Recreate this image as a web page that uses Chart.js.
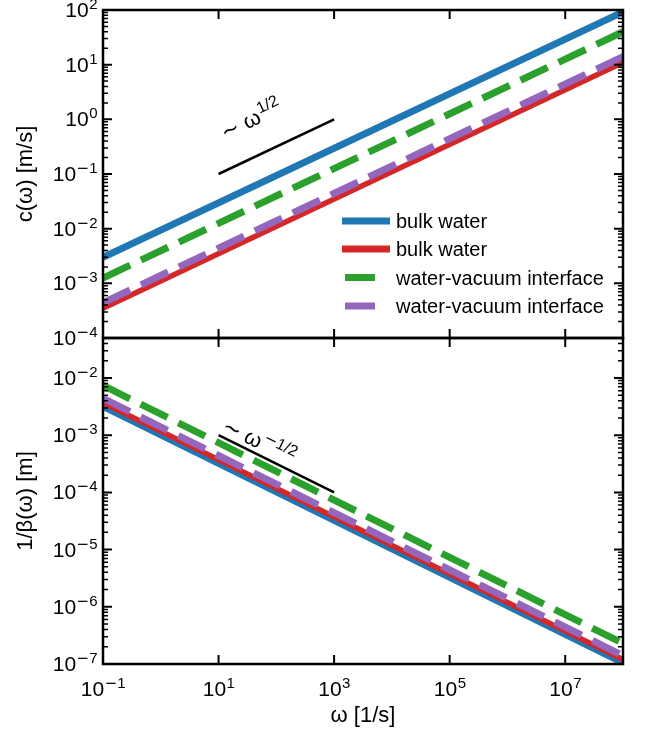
<!DOCTYPE html>
<html>
<head>
<meta charset="utf-8">
<script src="https://cdn.jsdelivr.net/npm/chart.js@4.4.1/dist/chart.umd.min.js"></script>
<style>
html, body { margin: 0; padding: 0; background: #fff; }
#wrap { position: relative; width: 651px; height: 731px; background: #fff; }
#top { position: absolute; left: 0; top: 0; }
#bot { position: absolute; left: 0; top: 330px; }
</style>
</head>
<body>
<div id="wrap">
  <canvas id="top" width="651" height="345"></canvas>
  <canvas id="bot" width="651" height="401"></canvas>
</div>
<script>
// end points of each straight line (log-log)
const omega = [0.1, 1e8];
const guideOmega = [10, 1000];

// top panel: c(omega) [m/s]
const cBulkA = [3.0e-3, 92];
const cBulkB = [3.5e-4, 11];
const cIfaceA = [1.25e-3, 40];
const cIfaceB = [4.4e-4, 14];
const cGuide = [0.1, 1];

// bottom panel: 1/beta(omega) [m]
const bBulkA = [3.2e-3, 1.05e-7];
const bBulkB = [3.7e-3, 1.2e-7];
const bIfaceA = [7.4e-3, 2.3e-7];
const bIfaceB = [4.4e-3, 1.4e-7];
const bGuide = [1e-3, 1e-4];

const names = ["bulk water", "bulk water", "water-vacuum interface", "water-vacuum interface"];
const colors = ["#1f77b4", "#d62728", "#2ca02c", "#9467bd"];

const xTickExp = [-1, 1, 3, 5, 7];
const cTickExp = [-4, -3, -2, -1, 0, 1, 2];
const bTickExp = [-7, -6, -5, -4, -3, -2];

const FONT = '"Liberation Sans", Arial, Helvetica, sans-serif';
const MINUS_FONT = '"DejaVu Sans", sans-serif';

function pts(xs, ys) {
  return xs.map((x, i) => ({ x: x, y: ys[i] }));
}

function series(vals, i) {
  return {
    label: names[i],
    data: pts(omega, vals),
    borderColor: colors[i],
    backgroundColor: colors[i],
    borderWidth: i === 1 ? 5.5 : 7,
    borderDash: i >= 2 ? [30, 12] : [],
    borderCapStyle: 'butt',
    pointRadius: 0,
    clip: 0,
    order: 4 - i // blue at the bottom, purple on top
  };
}

function guide(vals) {
  return {
    label: '',
    data: pts(guideOmega, vals),
    borderColor: '#000',
    borderWidth: 2.5,
    pointRadius: 0,
    clip: 0,
    order: 0
  };
}

// superscript text; a leading minus is drawn with the wider DejaVu glyph
function drawSup(ctx, s, x, y, size) {
  let w = 0;
  if (s[0] === '\u2212') {
    ctx.font = size + 'px ' + MINUS_FONT;
    ctx.fillText('\u2212', x, y);
    w = ctx.measureText('\u2212').width;
    s = s.slice(1);
  }
  ctx.font = size + 'px ' + FONT;
  ctx.fillText(s, x + w, y);
  return w + ctx.measureText(s).width;
}

function supWidth(ctx, s, size) {
  let w = 0;
  if (s[0] === '\u2212') {
    ctx.font = size + 'px ' + MINUS_FONT;
    w = ctx.measureText('\u2212').width;
    s = s.slice(1);
  }
  ctx.font = size + 'px ' + FONT;
  return w + ctx.measureText(s).width;
}

// "10" with a superscript exponent
function drawPow(ctx, exp, x, y, align) {
  const sup = exp < 0 ? '\u2212' + (-exp) : String(exp);
  ctx.font = '21px ' + FONT;
  const wb = ctx.measureText('10').width;
  const ws = supWidth(ctx, sup, 15);
  const x0 = align === 'right' ? x - wb - ws : x - (wb + ws) / 2;
  ctx.textAlign = 'left';
  ctx.textBaseline = 'alphabetic';
  ctx.font = '21px ' + FONT;
  ctx.fillText('10', x0, y);
  drawSup(ctx, sup, x0 + wb + 0.5, y - 8, 15);
}

const axesPlugin = {
  id: 'axesBox',
  afterDatasetsDraw(chart, args, o) {
    const ctx = chart.ctx, a = chart.chartArea;
    const xs = chart.scales.x, ys = chart.scales.y;
    ctx.save();
    ctx.fillStyle = '#000';
    ctx.strokeStyle = '#000';

    // y ticks (major + minor), inward on both sides
    for (let e = Math.floor(Math.log10(ys.min)); e <= Math.ceil(Math.log10(ys.max)); e++) {
      for (let k = 1; k <= 9; k++) {
        const v = k * Math.pow(10, e);
        if (v < ys.min * 0.999 || v > ys.max * 1.001) continue;
        const py = ys.getPixelForValue(v);
        const len = k === 1 ? 9 : 5;
        ctx.lineWidth = k === 1 ? 2 : 1.5;
        ctx.beginPath();
        ctx.moveTo(a.left, py); ctx.lineTo(a.left + len, py);
        ctx.moveTo(a.right, py); ctx.lineTo(a.right - len, py);
        ctx.stroke();
      }
    }
    // x ticks, inward top and bottom
    ctx.lineWidth = 2;
    xTickExp.forEach(e => {
      const px = xs.getPixelForValue(Math.pow(10, e));
      ctx.beginPath();
      ctx.moveTo(px, a.top); ctx.lineTo(px, a.top + 9);
      ctx.moveTo(px, a.bottom); ctx.lineTo(px, a.bottom - 9);
      ctx.stroke();
    });
    // frame
    ctx.lineWidth = 2.5;
    ctx.strokeRect(a.left, a.top, a.right - a.left, a.bottom - a.top);

    // y tick labels
    o.yTicks.forEach(e => {
      const py = ys.getPixelForValue(Math.pow(10, e));
      drawPow(ctx, e, a.left - 6, py + 7, 'right');
    });
    // x tick labels + title
    if (o.xLabels) {
      xTickExp.forEach(e => {
        const px = xs.getPixelForValue(Math.pow(10, e));
        drawPow(ctx, e, px, a.bottom + 32, 'center');
      });
      ctx.font = '22px ' + FONT;
      ctx.textAlign = 'center';
      ctx.textBaseline = 'middle';
      ctx.fillText('\u03c9 [1/s]', (a.left + a.right) / 2, a.bottom + 52);
    }
    // y title
    ctx.save();
    ctx.translate(26, (a.top + a.bottom) / 2);
    ctx.rotate(-Math.PI / 2);
    ctx.font = '22px ' + FONT;
    ctx.textAlign = 'center';
    ctx.textBaseline = 'middle';
    ctx.fillText(o.yTitle, 0, 0);
    ctx.restore();

    // slope annotation along the guide line
    const g = chart.data.datasets[4].data;
    const x1 = xs.getPixelForValue(g[0].x), y1 = ys.getPixelForValue(g[0].y);
    const x2 = xs.getPixelForValue(g[1].x), y2 = ys.getPixelForValue(g[1].y);
    const ang = Math.atan2(y2 - y1, x2 - x1);
    ctx.save();
    ctx.translate(xs.getPixelForValue(o.note.x), ys.getPixelForValue(o.note.y));
    ctx.rotate(ang);
    ctx.textAlign = 'left';
    ctx.textBaseline = 'alphabetic';
    ctx.font = '22px ' + FONT;
    const base = '\u223c \u03c9';
    ctx.fillText(base, 0, 0);
    const wb = ctx.measureText(base).width;
    drawSup(ctx, o.note.sup, wb + 1, -9, 16);
    ctx.restore();

    // legend inside the top panel
    if (o.legend) {
      const rows = [221, 249, 277.5, 306];
      chart.data.datasets.slice(0, 4).forEach((d, i) => {
        const ry = a.top + rows[i] - 10;
        ctx.strokeStyle = d.borderColor;
        ctx.lineWidth = 7;
        ctx.beginPath();
        if (d.borderDash.length) { ctx.moveTo(345, ry); ctx.lineTo(375, ry); }
        else { ctx.moveTo(342, ry); ctx.lineTo(390, ry); }
        ctx.stroke();
        ctx.fillStyle = '#000';
        ctx.font = '20px ' + FONT;
        ctx.textAlign = 'left';
        ctx.textBaseline = 'alphabetic';
        ctx.fillText(d.label, 396, ry + 7);
      });
    }
    ctx.restore();
  }
};

function makeChart(id, sets, yMin, yMax, pad, opts) {
  return new Chart(document.getElementById(id), {
    type: 'line',
    data: { datasets: sets },
    options: {
      responsive: false,
      animation: false,
      devicePixelRatio: 1,
      layout: { padding: pad },
      scales: {
        x: { type: 'logarithmic', min: 0.1, max: 1e8, display: false },
        y: { type: 'logarithmic', min: yMin, max: yMax, display: false }
      },
      plugins: {
        legend: { display: false },
        tooltip: { enabled: false },
        axesBox: opts
      }
    },
    plugins: [axesPlugin]
  });
}

makeChart('top',
  [series(cBulkA, 0), series(cBulkB, 1), series(cIfaceA, 2), series(cIfaceB, 3), guide(cGuide)],
  1e-4, 100,
  { left: 103, right: 28, top: 10, bottom: 7 },
  { yTicks: cTickExp, yTitle: 'c(\u03c9) [m/s]', xLabels: false, legend: true,
    note: { x: 13, y: 0.42, sup: '1/2' } });

makeChart('bot',
  [series(bBulkA, 0), series(bBulkB, 1), series(bIfaceA, 2), series(bIfaceB, 3), guide(bGuide)],
  1e-7, 0.05,
  { left: 103, right: 28, top: 8, bottom: 67 },
  { yTicks: bTickExp, yTitle: '1/\u03b2(\u03c9) [m]', xLabels: true, legend: false,
    note: { x: 11, y: 1.2e-3, sup: '\u22121/2' } });
</script>
</body>
</html>
